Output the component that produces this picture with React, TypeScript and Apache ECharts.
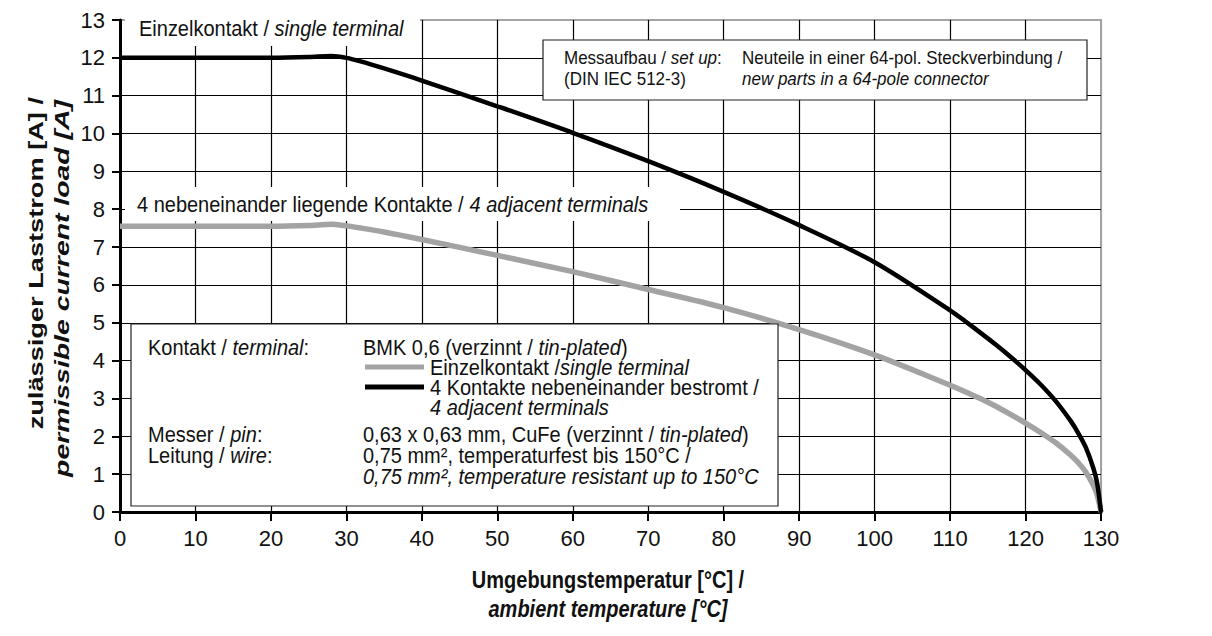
import React, { useEffect, useRef } from "react";
import * as echarts from "echarts";

const temperatures = [0, 10, 20, 25, 28, 30, 32, 35, 40, 50, 60, 70, 80, 90, 100, 110, 112, 114, 116, 118, 120, 122, 124, 126, 127, 128, 129, 129.5, 130];
const blackCurve = [12, 12, 12, 12.02, 12.05, 12.0, 11.9, 11.72, 11.4, 10.72, 10.02, 9.27, 8.46, 7.58, 6.6, 5.33, 5.04, 4.74, 4.43, 4.1, 3.75, 3.37, 2.93, 2.4, 2.08, 1.7, 1.15, 0.75, 0];
const greyCurve = [7.55, 7.55, 7.55, 7.57, 7.6, 7.56, 7.5, 7.4, 7.2, 6.78, 6.35, 5.88, 5.4, 4.82, 4.15, 3.35, 3.18, 3.0, 2.8, 2.58, 2.35, 2.1, 1.83, 1.5, 1.3, 1.05, 0.7, 0.45, 0];
const xTicks = [0, 10, 20, 30, 40, 50, 60, 70, 80, 90, 100, 110, 120, 130];
const yTicks = [0, 1, 2, 3, 4, 5, 6, 7, 8, 9, 10, 11, 12, 13];

const FONT = "'Liberation Sans', Arial, sans-serif";
const GREY = "#a3a3a3";

function makeRich(fs: number) {
  return {
    n: { fontFamily: FONT, fontSize: fs, fill: "#111", color: "#111" },
    i: { fontFamily: FONT, fontSize: fs, fontStyle: "italic", fill: "#111", color: "#111" },
  };
}

function txt(x: number, y: number, text: string, fs = 20) {
  return {
    type: "text",
    x,
    y,
    z: 60,
    scaleY: 1.08,
    style: {
      text,
      rich: makeRich(fs),
      font: `${fs}px ${FONT}`,
      fill: "#111",
      textVerticalAlign: "middle",
    },
  };
}

export default function App() {
  const ref = useRef<HTMLDivElement>(null);
  useEffect(() => {
    document.body.style.margin = "0";
    const chart = echarts.init(ref.current!, null, { renderer: "svg" });
    const L = 120, R = 1101, T = 20, B = 512;
    const xAxisColors = xTicks.map((_, i) => (i === xTicks.length - 1 ? GREY : "#000"));
    const yAxisColors = yTicks.map((_, i) => (i === yTicks.length - 1 ? GREY : "#000"));
    chart.setOption({
      animation: false,
      backgroundColor: "#fff",
      grid: { left: L, right: 1212 - R, top: T, bottom: 636 - B, show: true, borderColor: GREY, borderWidth: 2 },
      xAxis: {
        type: "value",
        min: 0,
        max: 130,
        interval: 10,
        axisLine: { show: true, onZero: false, lineStyle: { color: "#000", width: 3 } },
        axisTick: { show: true, length: 9, lineStyle: { color: "#000", width: 2 } },
        axisLabel: { fontFamily: FONT, fontSize: 22, color: "#111", margin: 15 },
        splitLine: { show: true, lineStyle: { color: xAxisColors, width: 1.2 } },
      },
      yAxis: {
        type: "value",
        min: 0,
        max: 13,
        interval: 1,
        axisLine: { show: true, onZero: false, lineStyle: { color: "#000", width: 3 } },
        axisTick: { show: true, length: 8, lineStyle: { color: "#000", width: 2 } },
        axisLabel: { fontFamily: FONT, fontSize: 22, color: "#111", margin: 15 },
        splitLine: { show: true, lineStyle: { color: yAxisColors, width: 1.2 } },
      },
      series: [
        {
          name: "4 Kontakte",
          type: "line",
          data: temperatures.map((t, i) => [t, blackCurve[i]]),
          smooth: 0.3,
          showSymbol: false,
          lineStyle: { color: "#000", width: 4.5 },
          z: 5,
        },
        {
          name: "Einzelkontakt",
          type: "line",
          data: temperatures.map((t, i) => [t, greyCurve[i]]),
          smooth: 0.3,
          showSymbol: false,
          lineStyle: { color: GREY, width: 5.5 },
          z: 4,
        },
      ],
      graphic: [
        // top label
        { type: "rect", z: 50, shape: { x: 125, y: 11, width: 295, height: 35 }, style: { fill: "#fff" } },
        txt(139, 28, "{n|Einzelkontakt / }{i|single terminal}"),
        // middle label
        { type: "rect", z: 50, shape: { x: 125, y: 187, width: 555, height: 34 }, style: { fill: "#fff" } },
        txt(137, 204, "{n|4 nebeneinander liegende Kontakte / }{i|4 adjacent terminals}"),
        // top-right box
        { type: "rect", z: 50, shape: { x: 543, y: 40, width: 544, height: 60 }, style: { fill: "#fff", stroke: "#222", lineWidth: 1.2 } },
        txt(564, 58, "{n|Messaufbau / }{i|set up}{n|:}", 17),
        txt(564, 79, "{n|(DIN IEC 512-3)}", 17),
        txt(742, 58, "{n|Neuteile in einer 64-pol. Steckverbindung /}", 17),
        txt(742, 79, "{i|new parts in a 64-pole connector}", 17),
        // legend box
        { type: "rect", z: 50, shape: { x: 131, y: 324, width: 647, height: 182 }, style: { fill: "#fff", stroke: "#222", lineWidth: 1.2 } },
        txt(148, 347, "{n|Kontakt / }{i|terminal}{n|:}"),
        txt(363, 347, "{n|BMK 0,6 (verzinnt / }{i|tin-plated}{n|)}"),
        { type: "line", z: 55, shape: { x1: 365, y1: 367, x2: 424, y2: 367 }, style: { stroke: GREY, lineWidth: 5 } },
        txt(430, 367, "{n|Einzelkontakt /}{i|single terminal}"),
        { type: "line", z: 55, shape: { x1: 365, y1: 387, x2: 424, y2: 387 }, style: { stroke: "#000", lineWidth: 5 } },
        txt(430, 387, "{n|4 Kontakte nebeneinander bestromt /}"),
        txt(430, 407, "{i|4 adjacent terminals}"),
        txt(148, 434, "{n|Messer / }{i|pin}{n|:}"),
        txt(363, 434, "{n|0,63 x 0,63 mm, CuFe (verzinnt / }{i|tin-plated}{n|)}"),
        txt(148, 455, "{n|Leitung / }{i|wire}{n|:}"),
        txt(363, 455, "{n|0,75 mm², temperaturfest bis 150°C /}"),
        txt(363, 476, "{i|0,75 mm², temperature resistant up to 150°C}"),
        // axis titles
        {
          type: "text", z: 60, x: 608, y: 580, scaleY: 1.2,
          style: { text: "Umgebungstemperatur [°C] /", font: `bold 20px ${FONT}`, fill: "#111", textAlign: "center", textVerticalAlign: "middle" },
        },
        {
          type: "text", z: 60, x: 608, y: 609, scaleY: 1.2,
          style: { text: "ambient temperature [°C]", font: `italic bold 20px ${FONT}`, fill: "#111", textAlign: "center", textVerticalAlign: "middle" },
        },
        {
          type: "text", z: 60, x: 36, y: 97, rotation: Math.PI / 2, scaleX: 1.36,
          style: { text: "zulässiger Laststrom [A] /", font: `bold 20px ${FONT}`, fill: "#111", textAlign: "right", textVerticalAlign: "middle" },
        },
        {
          type: "text", z: 60, x: 62, y: 100, rotation: Math.PI / 2, scaleX: 1.42,
          style: { text: "permissible current load [A]", font: `italic bold 20px ${FONT}`, fill: "#111", textAlign: "right", textVerticalAlign: "middle" },
        },
      ],
    });
    return () => chart.dispose();
  }, []);
  return <div ref={ref} style={{ position: "fixed", left: 0, top: 0, width: 1212, height: 636 }} />;
}
